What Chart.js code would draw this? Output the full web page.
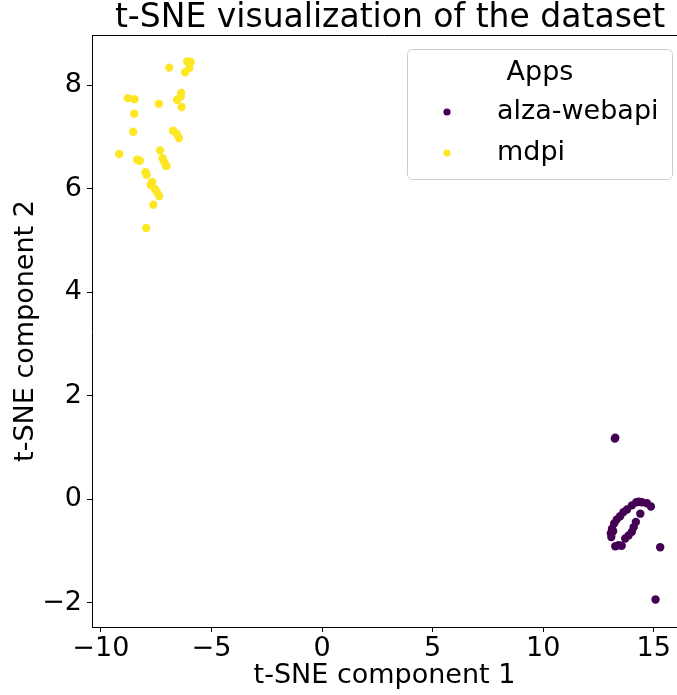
<!DOCTYPE html>
<html>
<head>
<meta charset="utf-8">
<script src="https://cdn.jsdelivr.net/npm/chart.js@4.4.0/dist/chart.umd.min.js"></script>
<style>
  html, body { margin: 0; padding: 0; background: #fff; }
  #chart { display: block; }
</style>
</head>
<body>
<canvas id="chart" width="677" height="695"></canvas>
<script>
// t-SNE coordinates
var alzaX = [13.24, 13.26, 14.21, 14.47, 14.69, 14.87, 14.01, 13.79, 13.63, 13.48, 13.33, 13.21, 13.11, 13.06, 13.08,
             14.39, 14.19, 14.09, 14.01, 13.86, 13.71, 13.41, 13.26, 15.29, 15.08, 14.33, 13.55, 13.16];
var alzaY = [1.17, 1.19, -0.06, -0.06, -0.08, -0.14, -0.12, -0.20, -0.25, -0.33, -0.39, -0.47, -0.57, -0.66, -0.73,
             -0.28, -0.44, -0.54, -0.63, -0.70, -0.76, -0.89, -0.91, -0.93, -1.94, -0.05, -0.90, -0.62];

var mdpiX = [-6.91, -6.10, -5.94, -6.00, -6.19, -8.78, -8.48, -7.38, -6.37, -6.39, -6.55, -6.35, -8.49, -8.54, -6.73,
             -6.57, -6.47, -9.17, -7.32, -8.36, -8.24, -7.21, -7.14, -7.06, -7.03, -7.98, -7.93, -7.68, -7.75, -7.56,
             -7.48, -7.36, -7.63, -7.95];
var mdpiY = [8.34, 8.46, 8.45, 8.33, 8.25, 7.75, 7.73, 7.64, 7.85, 7.78, 7.72, 7.58, 7.45, 7.10, 7.12,
             7.06, 6.98, 6.67, 6.74, 6.56, 6.54, 6.59, 6.52, 6.45, 6.44, 6.32, 6.27, 6.13, 6.07, 6.00,
             5.94, 5.86, 5.69, 5.24];

var appNames = ['alza-webapi', 'mdpi'];
var appColors = ['#440154', '#fde725'];
var xTicks = [-10, -5, 0, 5, 10, 15];
var yTicks = [-2, 0, 2, 4, 6, 8];

var FONT = '"DejaVu Sans", sans-serif';

function toPoints(xs, ys) {
    var pts = [];
    for (let i = 0; i < xs.length; i++) pts.push({x: xs[i], y: ys[i]});
    return pts;
}

// title, top spine and the boxed legend (matplotlib style)
var overlay = {
    id: 'overlay',
    afterDraw: (chart) => {
        var c = chart.ctx, a = chart.chartArea;
        c.save();
        c.strokeStyle = '#000';
        c.lineWidth = 1;
        c.beginPath();
        c.moveTo(a.left, a.top + 0.5);
        c.lineTo(a.right, a.top + 0.5);
        c.stroke();

        c.fillStyle = '#000';
        c.font = '33px ' + FONT;
        c.textAlign = 'center';
        c.textBaseline = 'alphabetic';
        c.fillText('t-SNE visualization of the dataset', 390, 27);

        // legend box
        var bx = 407.5, by = 49.5, bw = 265, bh = 130, r = 5;
        c.beginPath();
        c.moveTo(bx + r, by);
        c.arcTo(bx + bw, by, bx + bw, by + bh, r);
        c.arcTo(bx + bw, by + bh, bx, by + bh, r);
        c.arcTo(bx, by + bh, bx, by, r);
        c.arcTo(bx, by, bx + bw, by, r);
        c.closePath();
        c.fillStyle = 'rgba(255,255,255,0.8)';
        c.fill();
        c.strokeStyle = '#cccccc';
        c.stroke();

        c.fillStyle = '#000';
        c.font = '27px ' + FONT;
        c.textBaseline = 'middle';
        c.textAlign = 'center';
        c.fillText('Apps', 540, 73);
        c.textAlign = 'left';
        for (let i = 0; i < appNames.length; i++) {
            var yy = 112 + i * 41;
            c.fillStyle = appColors[i];
            c.beginPath();
            c.arc(447, yy, 3.6, 0, Math.PI * 2);
            c.fill();
            c.fillStyle = '#000';
            c.fillText(appNames[i], 497, yy);
        }
        c.restore();
    }
};

var minus = (v) => String(v).replace('-', '\u2212');

var ctx = document.getElementById('chart').getContext('2d');
var myChart = new Chart(ctx, {
    type: 'scatter',
    data: {
        datasets: [
            {label: appNames[0], data: toPoints(alzaX, alzaY), backgroundColor: appColors[0], borderWidth: 0, pointRadius: 4.2},
            {label: appNames[1], data: toPoints(mdpiX, mdpiY), backgroundColor: appColors[1], borderWidth: 0, pointRadius: 4.2}
        ]
    },
    options: {
        responsive: false,
        animation: false,
        events: [],
        layout: { autoPadding: false, padding: { top: 35, right: 0, left: 0, bottom: 0 } },
        plugins: {
            legend: { display: false },
            tooltip: { enabled: false },
            title: { display: false }
        },
        scales: {
            x: {
                type: 'linear',
                min: -10.4,
                max: 16.05,
                afterBuildTicks: (s) => { s.ticks = xTicks.map(v => ({value: v})); },
                afterFit: (s) => { s.height = 68; s.paddingRight = 0; s.paddingLeft = 0; },
                grid: { drawOnChartArea: false, tickLength: 5, color: '#000' },
                border: { color: '#000', width: 1 },
                ticks: { color: '#000', padding: 1, font: { family: FONT, size: 27 }, callback: minus, maxRotation: 0 },
                title: { display: true, text: 't-SNE component 1', color: '#000', font: { family: FONT, size: 27 }, padding: { top: 0, bottom: 3 } }
            },
            y: {
                type: 'linear',
                min: -2.47,
                max: 8.97,
                afterBuildTicks: (s) => { s.ticks = yTicks.map(v => ({value: v})); },
                afterFit: (s) => { s.width = 92; },
                grid: { drawOnChartArea: false, tickLength: 5, color: '#000' },
                border: { color: '#000', width: 1 },
                ticks: { color: '#000', padding: 5, font: { family: FONT, size: 27 }, callback: minus },
                title: { display: true, text: 't-SNE component 2', color: '#000', font: { family: FONT, size: 27 }, padding: { top: 10, bottom: 0 } }
            }
        }
    },
    plugins: [overlay]
});
</script>
</body>
</html>
